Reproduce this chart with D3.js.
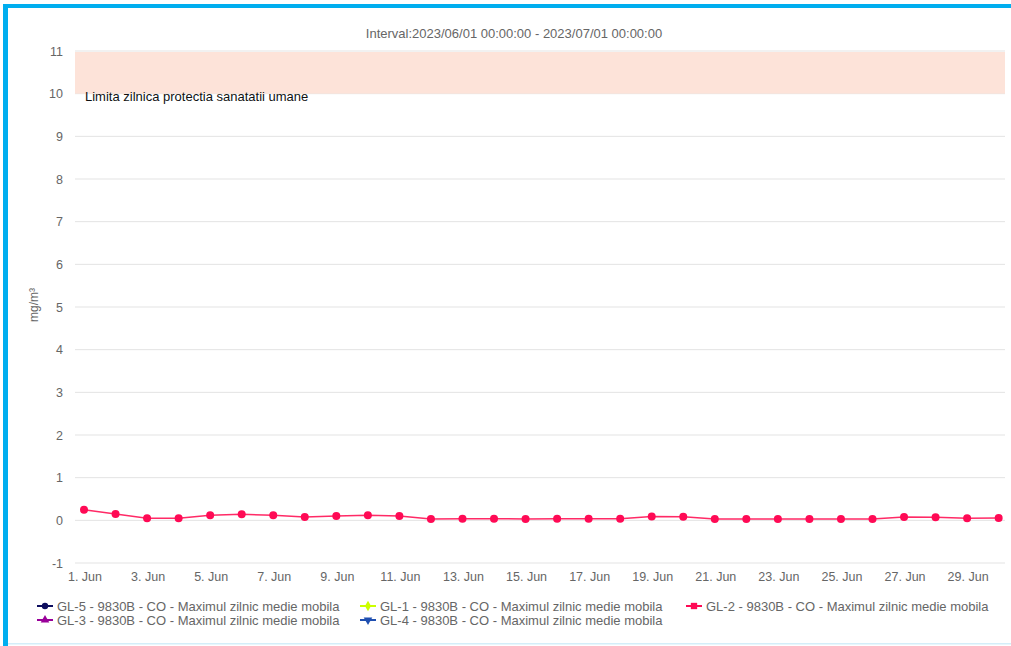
<!DOCTYPE html>
<html>
<head>
<meta charset="utf-8">
<style>
  body { margin: 0; background: #fff; }
  text { font-family: "Liberation Sans", Arial, sans-serif; }
</style>
</head>
<body>
<script src="https://cdn.jsdelivr.net/npm/d3@7"></script>
<script>
// data
var days = d3.range(1, 31);
var values = [0.25, 0.15, 0.05, 0.05, 0.12, 0.14, 0.12, 0.08, 0.10, 0.12,
              0.10, 0.03, 0.04, 0.04, 0.03, 0.04, 0.04, 0.04, 0.09, 0.085,
              0.03, 0.03, 0.03, 0.03, 0.03, 0.03, 0.08, 0.07, 0.05, 0.055];
var yTicks = [-1, 0, 1, 2, 3, 4, 5, 6, 7, 8, 9, 10, 11];
var xTickDays = [1, 3, 5, 7, 9, 11, 13, 15, 17, 19, 21, 23, 25, 27, 29];
var band = [10, 11];
var bandLabel = "Limita zilnica protectia sanatatii umane";
var title = "Interval:2023/06/01 00:00:00 - 2023/07/01 00:00:00";
var legendNames = [
  "GL-5 - 9830B - CO - Maximul zilnic medie mobila",
  "GL-1 - 9830B - CO - Maximul zilnic medie mobila",
  "GL-2 - 9830B - CO - Maximul zilnic medie mobila",
  "GL-3 - 9830B - CO - Maximul zilnic medie mobila",
  "GL-4 - 9830B - CO - Maximul zilnic medie mobila"
];
var legendColors = ["#0d0d5e", "#ccff00", "#ff0a55", "#990099", "#1f4fb0"];
var legendSymbols = [d3.symbolCircle, d3.symbolDiamond, d3.symbolSquare, d3.symbolTriangle, d3.symbolTriangle];

var width = 1011, height = 646;
var plotLeft = 75, plotRight = 1005, plotTop = 51, plotBottom = 563;

var svg = d3.select("body").append("svg")
  .attr("width", width).attr("height", height);

// frame
svg.append("rect").attr("x", 3).attr("y", 4).attr("width", 1010).attr("height", 4).attr("fill", "#00aeef");
svg.append("rect").attr("x", 3).attr("y", 4).attr("width", 5).attr("height", 642).attr("fill", "#00aeef");
svg.append("rect").attr("x", 8).attr("y", 643).attr("width", 1003).attr("height", 1.5).attr("fill", "#d4eef9");

var x = d3.scaleLinear().domain([1, 30]).range([84, 84 + 29 * 31.54]);
var y = d3.scaleLinear().domain([-1, 11]).range([plotBottom, plotTop]);

// grid
svg.append("g").selectAll("line").data(yTicks).enter().append("line")
  .attr("x1", plotLeft).attr("x2", plotRight)
  .attr("y1", function(d) { return y(d); }).attr("y2", function(d) { return y(d); })
  .attr("stroke", "#e3e3e3").attr("stroke-width", 1);

// plot band
svg.append("rect")
  .attr("x", plotLeft).attr("width", plotRight - plotLeft)
  .attr("y", y(band[1]) + 1).attr("height", y(band[0]) - y(band[1]) - 1)
  .attr("fill", "#fde3d9");
svg.append("text").attr("x", 85).attr("y", 101)
  .attr("font-size", 13).attr("fill", "#111").text(bandLabel);

// y axis labels
svg.append("g").selectAll("text").data(yTicks).enter().append("text")
  .attr("x", 63).attr("y", function(d) { return y(d) + 4.5; })
  .attr("text-anchor", "end").attr("font-size", 12.5).attr("fill", "#666")
  .text(function(d) { return d; });

svg.append("text")
  .attr("transform", "translate(38,305) rotate(-90)")
  .attr("text-anchor", "middle").attr("font-size", 12).attr("fill", "#666")
  .text("mg/m³");

// x axis labels
svg.append("g").selectAll("text").data(xTickDays).enter().append("text")
  .attr("x", function(d) { return x(d) + 1; }).attr("y", 581)
  .attr("text-anchor", "middle").attr("font-size", 12.5).attr("fill", "#666")
  .text(function(d) { return d + ". Jun"; });

// title
svg.append("text").attr("x", 514).attr("y", 38)
  .attr("text-anchor", "middle").attr("font-size", 13).attr("fill", "#666")
  .text(title);

// series
var line = d3.line()
  .x(function(d, i) { return x(days[i]); })
  .y(function(d) { return y(d); });

svg.append("path").datum(values)
  .attr("d", line).attr("fill", "none")
  .attr("stroke", "#ff2a66").attr("stroke-width", 1.5);

svg.append("g").selectAll("circle").data(values).enter().append("circle")
  .attr("cx", function(d, i) { return x(days[i]); })
  .attr("cy", function(d) { return y(d); })
  .attr("r", 4).attr("fill", "#ff0a55");

// legend
var legendPos = [[37, 606], [360, 606], [686, 606], [37, 620], [360, 620]];
var lg = svg.append("g").selectAll("g").data(legendNames).enter().append("g")
  .attr("transform", function(d, i) { return "translate(" + legendPos[i][0] + "," + legendPos[i][1] + ")"; });

lg.append("line").attr("x1", 0).attr("x2", 16).attr("y1", 0).attr("y2", 0)
  .attr("stroke", function(d, i) { return legendColors[i]; }).attr("stroke-width", 2);
lg.append("path")
  .attr("d", function(d, i) { return d3.symbol().type(legendSymbols[i]).size(i == 2 ? 40 : 32)(); })
  .attr("transform", function(d, i) { return "translate(8,0)" + (i == 4 ? " rotate(180)" : ""); })
  .attr("fill", function(d, i) { return legendColors[i]; });
lg.append("text").attr("x", 20).attr("y", 4.5)
  .attr("font-size", 13).attr("fill", "#666")
  .text(function(d) { return d; });
</script>
</body>
</html>
